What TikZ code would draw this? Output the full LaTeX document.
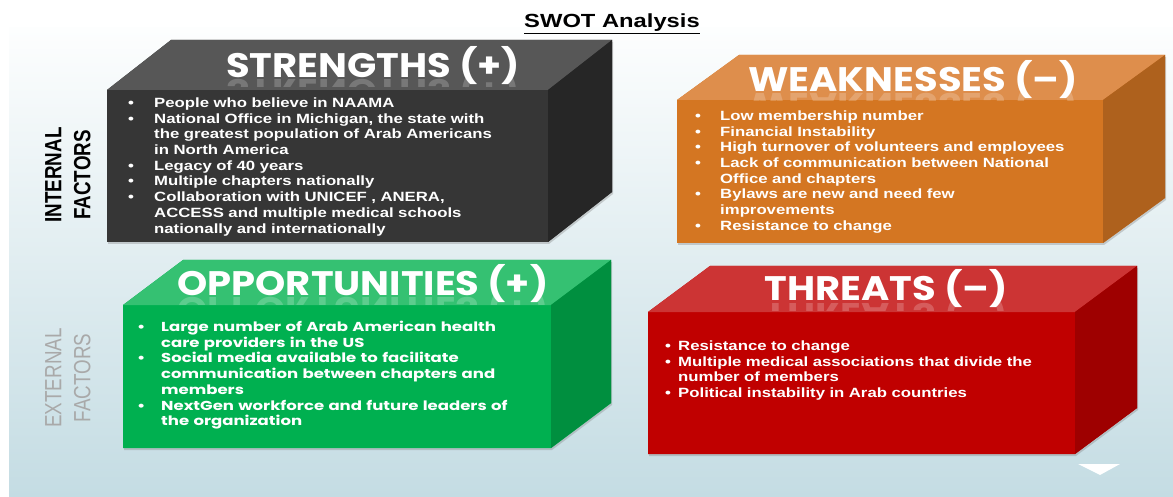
\documentclass[tikz,border=0pt]{standalone}
\usepackage{fontspec}
\setmainfont{Liberation Sans}[FakeStretch=1.25]
\newfontfamily\gothicfont{Poppins}[FakeStretch=1.13]
\newfontfamily\gothicbody{Poppins}[FakeStretch=1.27]
\newfontfamily\sidefont{Liberation Sans}[FakeStretch=0.8]
\usetikzlibrary{shadows}

\definecolor{bgtop}{HTML}{FDFEFE}
\definecolor{bgbot}{HTML}{C4DCE3}
\definecolor{strfront}{HTML}{363636}
\definecolor{strtop}{HTML}{575757}
\definecolor{strside}{HTML}{262626}
\definecolor{weakfront}{HTML}{D47622}
\definecolor{weaktop}{HTML}{DE8E4C}
\definecolor{weakside}{HTML}{AE611D}
\definecolor{oppfront}{HTML}{00B050}
\definecolor{opptop}{HTML}{35C172}
\definecolor{oppside}{HTML}{008F3F}
\definecolor{thrfront}{HTML}{C00000}
\definecolor{thrtop}{HTML}{CC3434}
\definecolor{thrside}{HTML}{9E0000}
\definecolor{extgray}{HTML}{A9A9A9}

\newcommand{\swotbul}[1][26pt]{\makebox[#1][l]{\textbullet}}
\newcommand{\swotgap}[1][26pt]{\hspace*{#1}}

\begin{document}
\begin{tikzpicture}[x=1pt, y=-1pt,
    heading/.style={text=white, inner sep=0pt, anchor=base, font=\gothicfont\bfseries\fontsize{34}{34}\selectfont},
    mirror/.style={heading, yscale=-1, opacity=0.2},
    bullets/.style={text=white, inner sep=0pt, anchor=base west, text width=440pt, align=left, font=\bfseries\fontsize{13.4}{15.7}\selectfont},
    oppbullets/.style={bullets, font=\gothicbody\bfseries\fontsize{13}{15.7}\selectfont},
    side/.style={rotate=90, inner sep=0pt, align=center, font=\sidefont\fontsize{23.5}{29}\selectfont},
    boxshadow/.style={drop shadow={shadow xshift=1pt, shadow yshift=-2pt, opacity=0.35}}]

    \useasboundingbox (0,0) rectangle (1173,497);
    \shade[top color=bgtop, bottom color=bgbot] (9,28) rectangle (1173,497);

    % Title
    \node[font=\bfseries\fontsize{19}{19}\selectfont, inner sep=0pt, anchor=base] (title) at (612,28) {\underline{SWOT Analysis}};

    % Side labels
    \node[side, font=\sidefont\bfseries\fontsize{23.5}{29}\selectfont] (internal) at (68,175) {INTERNAL\\FACTORS};
    \node[side, text=extgray] (external) at (68,378) {EXTERNAL\\FACTORS};

    % Strengths
    \fill[strfront, boxshadow] (107,242) -- (107,90) -- (171,40) -- (612,40) -- (612,192) -- (548,242) -- cycle;
    \fill[strtop] (107,90) -- (171,40) -- (612,40) -- (548,90) -- cycle;
    \fill[strside] (548,90) -- (612,40) -- (612,192) -- (548,242) -- cycle;
    \node[heading] (strhead) at (373,78) {STRENGTHS (+)};
    \begin{scope}
        \clip (200,79) rectangle (560,87);
        \node[mirror] (strmirror) at (373,80) {STRENGTHS (+)};
    \end{scope}
    \node[bullets] (strlist) at (128,107.5) {\swotbul People who believe in NAAMA\\
        \swotbul National Office in Michigan, the state with\\
        \swotgap the greatest population of Arab Americans\\
        \swotgap in North America\\
        \swotbul Legacy of 40 years\\
        \swotbul Multiple chapters nationally\\
        \swotbul Collaboration with UNICEF , ANERA,\\
        \swotgap ACCESS and multiple medical schools\\
        \swotgap nationally and internationally};

    % Weaknesses
    \fill[weakfront, boxshadow] (677,243) -- (677,100) -- (739,55) -- (1165,55) -- (1165,198) -- (1103,243) -- cycle;
    \fill[weaktop] (677,100) -- (739,55) -- (1165,55) -- (1103,100) -- cycle;
    \fill[weakside] (1103,100) -- (1165,55) -- (1165,198) -- (1103,243) -- cycle;
    \node[heading] (weakhead) at (913,92) {WEAKNESSES (\textendash)};
    \begin{scope}
        \clip (720,93) rectangle (1110,101);
        \node[mirror] (weakmirror) at (913,94) {WEAKNESSES (\textendash)};
    \end{scope}
    \node[bullets] (weaklist) at (695,120.5) {\swotbul[25pt]Low membership number\\
        \swotbul[25pt]Financial Instability\\
        \swotbul[25pt]High turnover of volunteers and employees\\
        \swotbul[25pt]Lack of communication between National\\
        \swotgap[25pt]Office and chapters\\
        \swotbul[25pt]Bylaws are new and need few\\
        \swotgap[25pt]improvements\\
        \swotbul[25pt]Resistance to change};

    % Opportunities
    \fill[oppfront, boxshadow] (123,448) -- (123,305) -- (183,260) -- (611,260) -- (611,403) -- (551,448) -- cycle;
    \fill[opptop] (123,305) -- (183,260) -- (611,260) -- (551,305) -- cycle;
    \fill[oppside] (551,305) -- (611,260) -- (611,403) -- (551,448) -- cycle;
    \node[heading] (opphead) at (363,295) {OPPORTUNITIES (+)};
    \begin{scope}
        \clip (160,296) rectangle (570,304);
        \node[mirror] (oppmirror) at (363,297) {OPPORTUNITIES (+)};
    \end{scope}
    \node[oppbullets] (opplist) at (137,331.5) {\swotbul[24pt]Large number of Arab American health\\
        \swotgap[24pt]care providers in the US\\
        \swotbul[24pt]Social media available to facilitate\\
        \swotgap[24pt]communication between chapters and\\
        \swotgap[24pt]members\\
        \swotbul[24pt]NextGen workforce and future leaders of\\
        \swotgap[24pt]the organization};

    % Threats
    \fill[thrfront, boxshadow] (648,454) -- (648,312) -- (710,266) -- (1137,266) -- (1137,408) -- (1075,454) -- cycle;
    \fill[thrtop] (648,312) -- (710,266) -- (1137,266) -- (1075,312) -- cycle;
    \fill[thrside] (1075,312) -- (1137,266) -- (1137,408) -- (1075,454) -- cycle;
    \node[heading] (thrhead) at (886,301) {THREATS (\textendash)};
    \begin{scope}
        \clip (750,302) rectangle (1030,310);
        \node[mirror] (thrmirror) at (886,303) {THREATS (\textendash)};
    \end{scope}
    \node[bullets] (thrlist) at (665,350.5) {\swotbul[13pt]Resistance to change\\
        \swotbul[13pt]Multiple medical associations that divide the\\
        \swotgap[13pt]number of members\\
        \swotbul[13pt]Political instability in Arab countries};

    % Marker
    \fill[white] (1078,464) -- (1120,464) -- (1100,475) -- cycle;

\end{tikzpicture}
\end{document}
